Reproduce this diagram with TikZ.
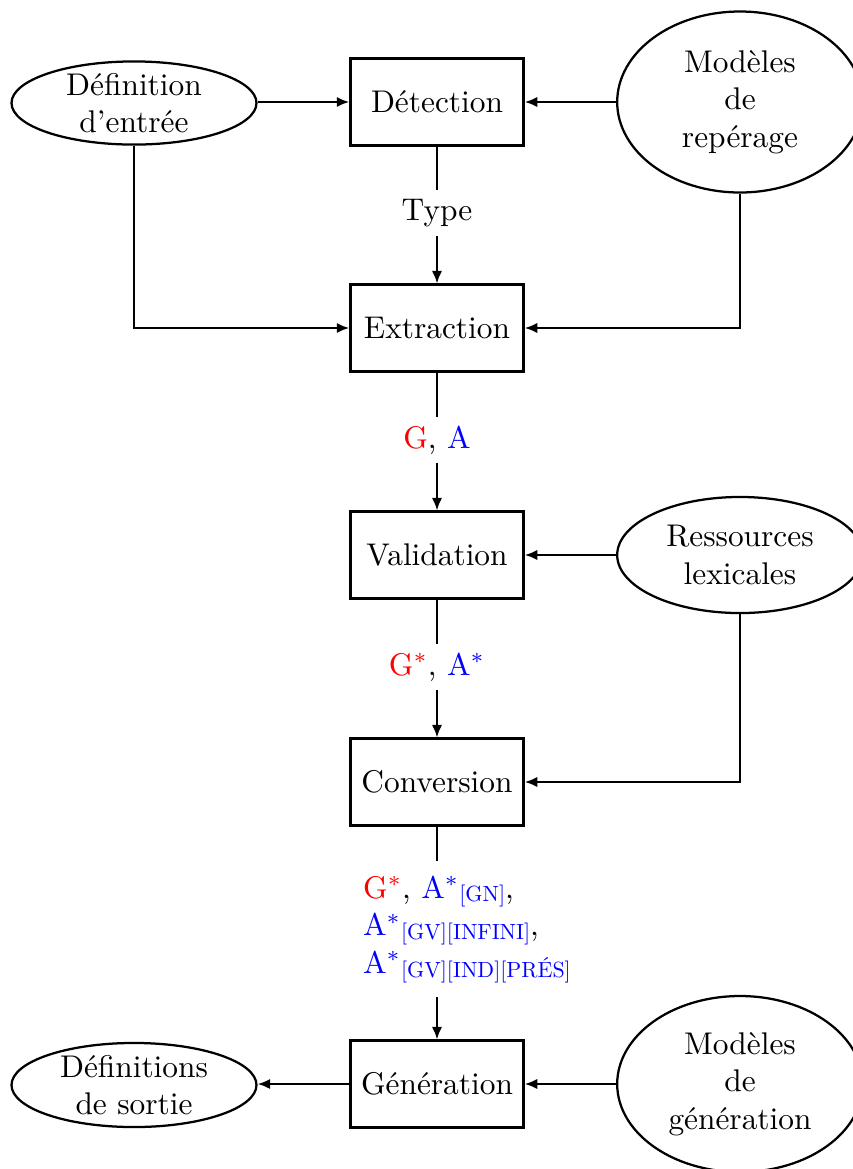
\documentclass[tikz,border=0pt]{standalone}
\usepackage{fontspec}
\newfontfamily\lmten{lmroman10-regular}[Extension=.otf]
\usetikzlibrary{shapes.geometric,arrows.meta}
\newcommand{\subtag}[1]{\raisebox{-1.2pt}{\lmten\fontsize{7}{8}\selectfont #1}}
\begin{document}
\begin{tikzpicture}[x=0.3188pt,y=-0.3188pt, line width=0.72pt,
  proc/.style={draw, rectangle, minimum width=55.2pt, minimum height=27.7pt, inner sep=0pt},
  res/.style={draw, ellipse, inner sep=0pt, minimum width=78.3pt},
  arr/.style={-{Latex[length=4pt,width=3.3pt]}},
  lbl/.style={inner sep=2.5pt, align=center}]
\useasboundingbox (0,0) rectangle (853,1169);
% process boxes
\node[proc] (det)  at (437,102)  {Détection};
\node[proc] (ext)  at (437,328)  {Extraction};
\node[proc] (val)  at (437,555)  {Validation};
\node[proc] (conv) at (437,782)  {Conversion};
\node[proc] (gen)  at (437,1084) {Génération};
% resources
\node[res, minimum width=78.1pt, minimum height=26.5pt,
  label={[align=center]center:Définition\\d'entrée}] (defin) at (134,103) {};
\node[res, minimum height=57.7pt,
  label={[align=center]center:Modèles\\de\\repérage}] (modrep) at (740,102) {};
\node[res, minimum height=37pt,
  label={[align=center]center:Ressources\\lexicales}] (ress) at (740,555) {};
\node[res, minimum width=78.1pt, minimum height=26.8pt,
  label={[align=center]center:Définitions\\de sortie}] (defout) at (134,1085) {};
\node[res, minimum height=56.1pt,
  label={[align=center]center:Modèles\\de\\génération}] (modgen) at (740,1084) {};
% labels
\node[lbl] (ltype) at (437,213) {Type};
\node[lbl] (lga) at (437,440) {\textcolor{red}{G}, \textcolor{blue}{A}};
\node[lbl] (lgas) at (437,667) {\textcolor{red}{G$^*$}, \textcolor{blue}{A$^*$}};
\node[align=left, inner xsep=0pt, inner ysep=4.3pt, anchor=north west] (lconv) at (362,861)
  {\textcolor{red}{G$^*$}, \textcolor{blue}{A$^*$\subtag{[GN]}},\\
   \textcolor{blue}{A$^*$\subtag{[GV][INFINI]}},\\
   \textcolor{blue}{A$^*$\subtag{[GV][IND][PRÉS]}}};
% connectors
\draw[arr] (defin.east |- det) -- (det);
\draw[arr] (modrep) -- (det);
\draw[arr] (defin.south) |- (ext.west);
\draw[arr] (modrep.south) |- (ext.east);
\draw (det) -- (ltype);
\draw[arr] (ltype) -- (ext);
\draw (ext) -- (lga);
\draw[arr] (lga) -- (val);
\draw[arr] (ress) -- (val);
\draw[arr] (ress.south) |- (conv.east);
\draw (val) -- (lgas);
\draw[arr] (lgas) -- (conv);
\draw (conv) -- (conv.south |- lconv.north);
\draw[arr] (conv.south |- lconv.south) -- (gen);
\draw[arr] (gen) -- (defout.east |- gen);
\draw[arr] (modgen) -- (gen);
\end{tikzpicture}
\end{document}
